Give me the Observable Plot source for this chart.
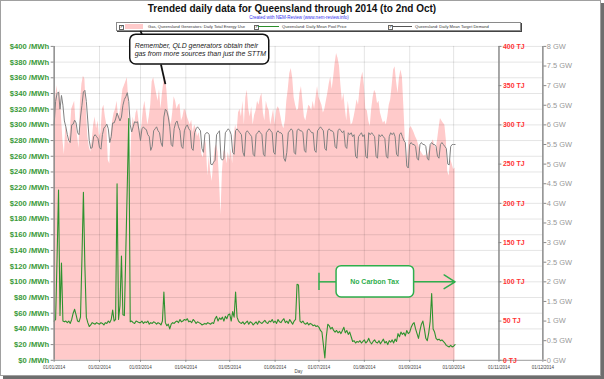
<!DOCTYPE html>
<html><head><meta charset="utf-8">
<script src="https://cdn.jsdelivr.net/npm/d3@7"></script>
<script src="https://cdn.jsdelivr.net/npm/@observablehq/plot@0.6"></script>
<style>
body{margin:0;background:#fff;font-family:"Liberation Sans",Arial,sans-serif;}
#wrap{position:absolute;left:0;top:0;width:599px;height:374px;border:1px solid #a0a0a0;box-shadow:3px 3px 0 #6e6e6e;background:#fff;}
#title{position:absolute;left:0;width:582px;top:2px;text-align:center;font-weight:bold;font-size:10px;line-height:12px;color:#111;}
#sub{position:absolute;left:0;width:596px;top:14px;text-align:center;font-size:4.5px;line-height:6px;color:#3333ee;}
#legend{position:absolute;left:115px;top:21px;width:403px;height:7px;border:1px solid #8a8a8a;box-shadow:1px 1px 0 #444;background:#fff;font-size:4.1px;line-height:7px;color:#333;}
#legend span{position:absolute;}
.cb{top:1.5px;width:3px;height:3px;border:0.6px solid #666;font-size:3.5px;line-height:3px;text-align:center;color:#000;}
#chart{position:absolute;left:-1px;top:31px;}
</style></head>
<body>
<div id="wrap">
  <div id="title">Trended daily data for Queensland through 2014 (to 2nd Oct)</div>
  <div id="sub">Created with NEM-Review (www.nem-review.info)</div>
  <div id="legend">
    <span class="cb" style="left:2px">✓</span>
    <span style="left:8px;top:1px;width:18px;height:5px;background:#ffcaca"></span>
    <span style="left:31px;top:0">Gas, Queensland Generators: Daily Total Energy Use</span>
    <span class="cb" style="left:137px">✓</span>
    <span style="left:141px;top:3px;width:21px;height:1px;background:#2b8f2b"></span>
    <span style="left:165px;top:0">Queensland: Daily Mean Pool Price</span>
    <span class="cb" style="left:271px">✓</span>
    <span style="left:276px;top:3px;width:19px;height:1px;background:#555"></span>
    <span style="left:298px;top:0">Queensland: Daily Mean Target Demand</span>
  </div>
  <div id="chart"></div>
</div>
<script>
// ---- data (daily, from 1 Jan 2014) ----
const startDate = "2014-01-01";
// Daily mean pool price ($/MWh)
const price = [
 50,52,130,217,57,124,50,49,50,48,50,47,52,60,65,58,50,49,55,130,214,120,55,48,43,45,48,47,46,48,47,
 46,48,47,45,48,47,50,48,52,64,50,52,225,52,70,133,58,57,141,224,308,49,50,48,47,50,49,48,
 48,50,47,49,48,50,46,48,47,49,48,46,48,47,45,50,87,48,44,46,40,46,48,47,49,50,48,52,49,50,52,
 51,53,49,50,48,52,50,47,49,48,47,45,46,47,46,48,47,46,48,47,53,56,50,54,52,55,50,56,53,58,
 59,50,62,55,87,55,50,48,47,49,46,48,50,46,49,48,45,47,49,46,50,48,47,49,51,48,47,50,49,52,48,
 50,47,52,49,48,51,53,48,50,47,52,49,46,50,52,97,96,50,48,50,47,46,48,45,47,46,44,45,43,44,
 42,38,36,20,3,30,46,44,40,42,38,36,38,35,37,34,38,42,35,38,33,36,30,24,25,22,24,23,25,22,24,
 26,22,24,28,23,21,24,26,23,22,25,21,24,27,22,24,20,25,23,26,22,27,24,34,30,36,33,35,31,38,34,
 36,42,46,48,40,34,28,38,46,50,40,28,25,35,50,85,40,36,28,26,27,25,26,24,22,19,18,17,19,17,
 18,20
];
// Daily mean target demand (GW)
const demand = [
 6.0,6.6,6.8,6.84,6.4,6.75,6.5,6.1,5.95,5.75,5.6,5.55,6.0,6.02,6.12,6.05,5.8,5.75,6.2,6.5,6.84,6.88,6.6,6.1,5.6,5.4,5.42,5.7,5.75,5.7,5.65,
 5.42,5.38,5.75,5.92,5.96,6.02,5.9,5.55,5.7,6.05,6.05,6.15,6.3,6.2,6.1,6.2,6.5,6.65,6.72,6.82,6.6,6.0,5.82,5.95,6.08,6.06,6.08,5.85,
 5.6,5.9,5.95,5.9,5.88,5.75,5.7,5.35,5.45,5.85,5.9,5.95,5.85,5.8,5.55,5.45,6.2,6.4,6.35,6.2,5.95,5.5,5.45,5.9,6.05,6.1,5.95,5.85,5.45,5.4,5.85,
 5.95,6.0,5.9,5.85,5.4,5.35,5.8,5.9,5.95,5.9,5.85,5.4,5.3,5.75,5.8,5.8,5.75,5.0,4.98,5.05,5.1,5.75,5.8,5.85,5.15,5.1,5.15,5.8,5.85,5.9,
 5.85,5.75,5.3,5.25,5.85,5.9,5.85,5.8,5.75,5.3,5.2,5.8,5.85,5.8,5.75,5.7,5.25,5.2,5.75,5.8,5.85,5.8,5.75,5.25,5.2,5.8,5.85,5.9,5.85,5.8,5.3,
 5.25,5.8,5.85,5.8,5.8,5.75,5.15,5.07,5.3,5.8,5.85,5.9,5.85,5.3,5.25,5.85,5.9,5.85,5.85,5.8,5.35,5.3,5.85,5.9,5.85,5.8,5.8,5.35,5.3,5.85,
 5.9,5.95,5.9,5.85,5.4,5.35,5.85,5.9,5.85,5.85,5.8,5.45,5.4,5.85,5.9,5.85,5.8,5.85,5.45,5.4,5.8,5.75,5.8,5.7,5.75,5.2,5.15,5.7,5.75,5.8,5.7,
 5.75,5.2,5.15,5.8,5.75,5.8,5.75,5.7,5.2,5.15,5.75,5.7,5.75,5.7,5.65,5.2,5.15,5.7,5.8,5.75,5.8,5.7,5.25,5.2,5.75,5.8,5.7,5.6,5.55,4.95,4.9,
 5.5,5.55,5.5,5.5,5.45,5.15,5.1,5.5,5.55,5.5,5.5,5.45,5.15,5.1,5.5,5.55,5.5,5.5,5.45,5.2,5.15,5.5,5.55,5.5,5.45,5.4,5.0,4.98,5.45,5.5,
 5.5,5.5
];
// Gas used by Queensland generators (TJ/day)
const gas = [
 300,335,350,330,345,310,280,262,300,285,275,290,320,325,330,300,285,270,330,352,362,358,320,285,272,265,280,300,310,295,305,
 285,290,320,325,310,300,255,250,290,305,315,320,330,310,315,330,345,350,355,360,330,235,290,310,300,315,320,305,
 290,300,320,330,315,300,310,325,355,360,350,340,330,345,320,340,355,362,345,320,310,300,315,336,330,320,325,327,305,310,320,
 318,310,305,300,306,290,300,295,285,290,280,262,258,285,275,235,260,240,228,250,270,275,265,230,185,240,265,270,250,265,
 255,270,250,285,300,290,315,320,310,330,300,335,344,320,310,323,300,312,318,330,325,335,340,315,305,330,322,318,300,310,320,
 300,318,323,320,310,300,295,305,330,345,365,372,360,335,325,318,320,340,349,330,310,305,315,325,323,318,330,320,335,349,
 335,330,325,315,320,330,340,352,361,345,360,378,391,385,375,350,330,340,320,305,330,315,300,302,310,320,332,325,345,360,367,
 350,320,318,305,298,320,335,344,340,327,330,315,308,302,305,300,310,325,332,350,370,374,355,340,360,370,361,323,281,247,270,
 295,298,294,290,285,281,275,268,265,262,260,262,258,265,272,275,281,275,268,280,295,308,305,302,300,281,240,235,256,250,
 243,245
];
// ticks
const priceTicks = [0,20,40,60,80,100,120,140,160,180,200,220,240,260,280,300,320,340,360,380,400];
const tjTicks = [0,50,100,150,200,250,300,350,400];
const gwTicks = [0,0.5,1,1.5,2,2.5,3,3.5,4,4.5,5,5.5,6,6.5,7,7.5,8];
const monthTicks = ["2014-01-01","2014-02-01","2014-03-01","2014-04-01","2014-05-01","2014-06-01","2014-07-01","2014-08-01","2014-09-01","2014-10-01","2014-11-01","2014-12-01"];
const gridMonths = ["2014-02-01","2014-03-01","2014-04-01","2014-05-01","2014-06-01","2014-07-01","2014-08-01","2014-09-01","2014-10-01"];

// annotations
const remember = {x1:"2014-02-22", x2:"2014-05-28", y1:377, y2:415,
  textX:"2014-02-25", lines:[{t:"Remember, QLD generators obtain their", y:401},{t:"gas from more sources than just the STTM", y:390}],
  pointers:[{x1:"2014-03-01",y1:420,x2:"2014-03-02",y2:415},{x1:"2014-03-15",y1:377,x2:"2014-03-18",y2:352}]};
const carbon = {start:"2014-07-01", boxL:"2014-07-13", boxR:"2014-09-04", end:"2014-10-02", y:100, y1:80, y2:120, tick1:89, tick2:111, label:"No Carbon Tax", labelX:"2014-08-08"};

// ---- build ----
const D = s => new Date(s + "T00:00:00Z");
const t0 = D(startDate);
const rows = price.map((p, i) => ({date: new Date(+t0 + i * 864e5), price: p, demand: demand[i], gas: gas[i]}));
const GW = 50; // y units per GW (8 GW axis shares the 400 scale)
const green = "#2e922e", ctGreen = "#2fae4c", pink = "#ffcaca";
const fmtDate = d3.utcFormat("%d/%m/%Y");
const tjAxis = D("2014-11-01"), tjTickEnd = D("2014-11-03");

const chart = Plot.plot({
  width: 604, height: 345,
  marginTop: 14, marginBottom: 15, marginLeft: 54, marginRight: 58,
  style: {fontFamily: '"Liberation Sans",Arial,sans-serif', overflow: "visible", background: "transparent"},
  x: {type: "utc", domain: [D(monthTicks[0]), D(monthTicks[monthTicks.length - 1])]},
  y: {domain: [0, 400]},
  marks: [
    Plot.areaY(rows, {x: "date", y: "gas", fill: pink}),
    Plot.ruleY(priceTicks.slice(1), {stroke: "#000", strokeOpacity: 0.11}),
    Plot.ruleX(gridMonths.map(D), {stroke: "#000", strokeOpacity: 0.11}),
    Plot.lineY(rows, {x: "date", y: d => d.demand * GW, stroke: "#808080", strokeWidth: 1}),
    Plot.lineY(rows, {x: "date", y: "price", stroke: green, strokeWidth: 1.1}),
    Plot.ruleX([D(monthTicks[0]), tjAxis, D(monthTicks[11])], {stroke: "#8a8a8a", strokeWidth: 1.5}),
    Plot.ruleY([0], {stroke: "#9a9a9a"}),
    Plot.axisY({anchor: "left", ticks: priceTicks, tickFormat: d => `$${d} /MWh`, tickSize: 3, tickPadding: 2,
      fill: "#3a9a3a", stroke: "#888", fontSize: 7.7, fontWeight: "bold", label: null}),
    Plot.axisY({anchor: "right", ticks: gwTicks.map(g => g * GW), tickFormat: d => `${d / GW} GW`, tickSize: 3, tickPadding: 1,
      fill: "#999", stroke: "#888", fontSize: 7.5, label: null}),
    Plot.ruleY(tjTicks, {x1: tjAxis, x2: tjTickEnd, stroke: "#888"}),
    Plot.text(tjTicks, {x: tjAxis, y: d => d, text: d => `${d} TJ`, dx: 4, textAnchor: "start", fill: "#ff3333", fontSize: 7, fontWeight: "bold"}),
    Plot.axisX({ticks: monthTicks.map(D), tickFormat: fmtDate, tickSize: 2, tickPadding: 3.5, fontSize: 4.5, fill: "#444", stroke: "#888", label: null}),
    Plot.text(["Day"], {frameAnchor: "bottom", dy: 12.5, fontSize: 4.5, fill: "#444"}),
    // Remember annotation
    Plot.link(remember.pointers, {x1: d => D(d.x1), y1: "y1", x2: d => D(d.x2), y2: "y2", stroke: "#111", strokeWidth: 1.8}),
    Plot.rect([remember], {x1: d => D(d.x1), x2: d => D(d.x2), y1: "y1", y2: "y2", rx: 6, fill: "white", stroke: "#111", strokeWidth: 1.5}),
    Plot.text(remember.lines, {x: D(remember.textX), y: "y", text: "t", textAnchor: "start", fontStyle: "italic", fontSize: 7, fill: "#222"}),
    // No carbon tax annotation
    Plot.ruleX([D(carbon.start)], {y1: carbon.tick1, y2: carbon.tick2, stroke: ctGreen, strokeWidth: 1.5}),
    Plot.link([carbon], {x1: d => D(d.start), x2: d => D(d.boxL), y1: "y", y2: "y", stroke: ctGreen, strokeWidth: 1.5}),
    Plot.arrow([carbon], {x1: d => D(d.boxR), x2: d => D(d.end), y1: "y", y2: "y", stroke: ctGreen, strokeWidth: 1.5, headLength: 13, headAngle: 64}),
    Plot.rect([carbon], {x1: d => D(d.boxL), x2: d => D(d.boxR), y1: "y1", y2: "y2", rx: 5, fill: "white", stroke: ctGreen, strokeWidth: 1.5}),
    Plot.text([carbon], {x: d => D(d.labelX), y: "y", text: "label", fill: ctGreen, fontWeight: "bold", fontSize: 7})
  ]
});
document.getElementById("chart").appendChild(chart);
</script>
</body></html>
